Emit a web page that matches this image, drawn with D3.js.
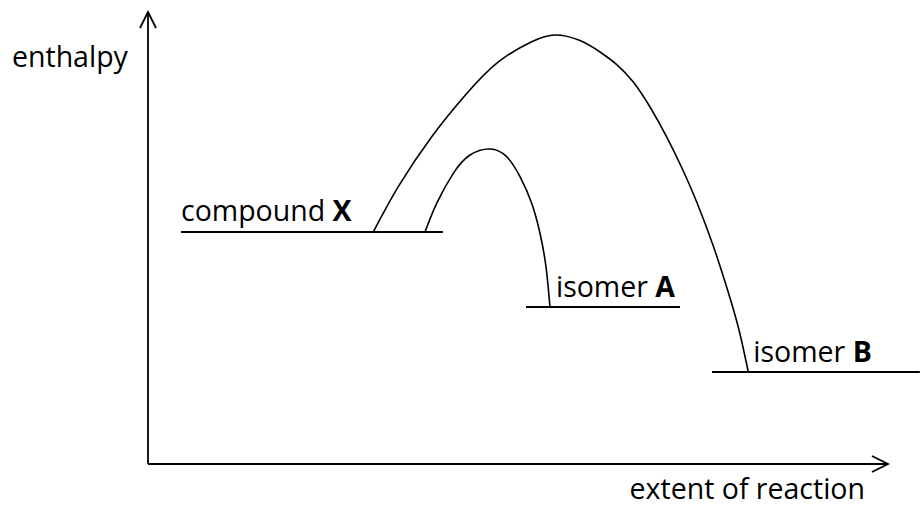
<!DOCTYPE html>
<html>
<head>
<meta charset="utf-8">
<script src="https://cdn.jsdelivr.net/npm/d3@7"></script>
<style>
  html, body { margin: 0; padding: 0; background: #fff; }
  svg { display: block; }
  text { font-family: "Open Sans", "Noto Sans", sans-serif; fill: #000; }
</style>
</head>
<body>
<svg id="chart" width="920" height="506"></svg>
<script>
// ---- data (abstract units: extent 0..100, enthalpy 0..100) ----
const levelNames = ["compound", "isomer", "isomer"];
const levelTags = ["X", "A", "B"];
const levelEnthalpy = [51.33, 34.73, 20.35];
const levelStart = [4.46, 51.08, 76.22];
const levelEnd = [39.86, 71.89, 104.3];

// reaction path X -> B (higher barrier)
const pathBExtent = [30.45, 33.82, 38.34, 42.84, 47.34, 51.85, 55.0, 58.38, 61.08, 63.34, 65.58, 67.84, 70.09, 72.34, 74.15, 76.39, 78.65, 80.0, 81.12];
const pathBEnthalpy = [51.33, 61.35, 72.41, 81.53, 88.94, 93.43, 94.91, 93.69, 91.15, 88.38, 84.51, 78.98, 72.35, 64.82, 57.96, 48.23, 36.73, 28.76, 20.35];

// reaction path X -> A (lower barrier)
const pathAExtent = [37.43, 39.01, 41.26, 43.51, 46.22, 48.47, 50.27, 51.85, 52.97, 53.78, 54.32];
const pathAEnthalpy = [51.33, 57.68, 64.31, 68.36, 69.69, 67.99, 63.56, 57.68, 51.04, 43.65, 34.73];

const axisTitles = ["enthalpy", "extent of reaction"];

// ---- layout ----
const svg = d3.select("#chart");
const x = d3.scaleLinear().domain([0, 100]).range([148, 888]);
const y = d3.scaleLinear().domain([0, 100]).range([464, 12]);
const fontSize = 28.5;

// axes
const axisG = svg.append("g").attr("stroke", "#000").attr("fill", "none")
  .attr("stroke-width", 1.8);
axisG.append("line").attr("x1", x(0)).attr("y1", y(0)).attr("x2", x(0)).attr("y2", y(100));
axisG.append("line").attr("x1", x(0)).attr("y1", y(0)).attr("x2", x(100)).attr("y2", y(0));
// arrow heads (open chevrons)
axisG.append("path")
  .attr("d", `M${x(0) - 8},${y(100) + 16} L${x(0)},${y(100)} L${x(0) + 8},${y(100) + 16}`);
axisG.append("path")
  .attr("d", `M${x(100) - 16},${y(0) - 8} L${x(100)},${y(0)} L${x(100) - 16},${y(0) + 8}`);

// axis titles
svg.append("text").attr("x", 12).attr("y", 67).attr("font-size", fontSize).text(axisTitles[0]);
svg.append("text").attr("x", 865).attr("y", 499).attr("text-anchor", "end")
  .attr("font-size", fontSize).text(axisTitles[1]);

// level lines
const levels = levelNames.map((n, i) => ({
  name: n, tag: levelTags[i], h: levelEnthalpy[i], s: levelStart[i], e: levelEnd[i]
}));
svg.append("g").selectAll("line").data(levels).join("line")
  .attr("x1", d => x(d.s)).attr("x2", d => x(d.e))
  .attr("y1", d => y(d.h)).attr("y2", d => y(d.h))
  .attr("stroke", "#000").attr("stroke-width", 2.1);

// reaction paths
const line = d3.line().x(d => x(d[0])).y(d => y(d[1])).curve(d3.curveNatural);
const pathB = pathBExtent.map((v, i) => [v, pathBEnthalpy[i]]);
const pathA = pathAExtent.map((v, i) => [v, pathAEnthalpy[i]]);
svg.append("g").selectAll("path").data([pathB, pathA]).join("path")
  .attr("d", line)
  .attr("fill", "none").attr("stroke", "#000").attr("stroke-width", 1.6);

// level labels
const labelX = [x(levelStart[0]), x(pathAExtent[pathAExtent.length - 1]) + 6, x(pathBExtent[pathBExtent.length - 1]) + 5];
levels.forEach((d, i) => {
  const t = svg.append("text").attr("x", labelX[i]).attr("y", y(d.h) - 10.5).attr("font-size", fontSize);
  t.append("tspan").text(d.name + " ");
  t.append("tspan").attr("font-weight", "bold").text(d.tag);
});
</script>
</body>
</html>
